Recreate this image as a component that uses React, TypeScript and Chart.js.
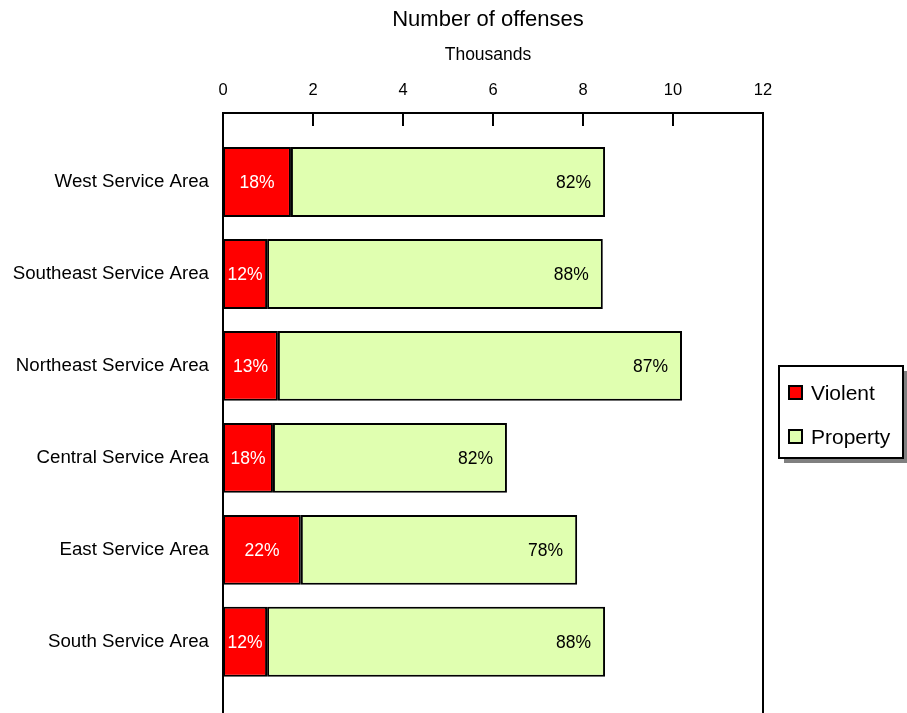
import React, { useEffect, useRef } from "react";
import { Chart, registerables } from "chart.js";

Chart.register(...registerables);

const categories = [
  "West Service Area",
  "Southeast Service Area",
  "Northeast Service Area",
  "Central Service Area",
  "East Service Area",
  "South Service Area",
];
const violent = [1.51, 0.98, 1.22, 1.11, 1.73, 0.98];
const property = [6.98, 7.46, 8.98, 5.2, 6.14, 7.51];
const violentPct = ["18%", "12%", "13%", "18%", "22%", "12%"];
const propertyPct = ["82%", "88%", "87%", "82%", "78%", "88%"];
const xTicks = [0, 2, 4, 6, 8, 10, 12];
const titleText = "Number of offenses";
const subtitleText = "Thousands";

const FONT = "'Liberation Sans', Arial, Helvetica, sans-serif";
const RED = "#FF0000";
const GREEN = "#E0FFB0";

const decorPlugin = {
  id: "decor",
  afterDatasetsDraw(chart: any) {
    const ctx = chart.ctx;
    const area = chart.chartArea;
    const xs = chart.scales.x;
    const frameTop = area.top - 23;
    const frameBottom = chart.height;
    ctx.save();
    // frame
    ctx.strokeStyle = "#000";
    ctx.lineWidth = 2;
    ctx.beginPath();
    ctx.moveTo(area.left, frameBottom);
    ctx.lineTo(area.left, frameTop);
    ctx.lineTo(area.right, frameTop);
    ctx.lineTo(area.right, frameBottom);
    ctx.stroke();
    // tick marks
    ctx.beginPath();
    xTicks.forEach((t) => {
      const px = Math.round(xs.getPixelForValue(t));
      ctx.moveTo(px, frameTop);
      ctx.lineTo(px, frameTop + 13);
    });
    ctx.stroke();

    // value labels
    ctx.font = `17.5px ${FONT}`;
    ctx.textBaseline = "middle";
    const m0 = chart.getDatasetMeta(0);
    const m1 = chart.getDatasetMeta(1);
    m0.data.forEach((el: any, i: number) => {
      ctx.fillStyle = "#FFFFFF";
      ctx.textAlign = "center";
      ctx.fillText(violentPct[i], (el.x + el.base) / 2, el.y + 1);
    });
    m1.data.forEach((el: any, i: number) => {
      ctx.fillStyle = "#000000";
      ctx.textAlign = "right";
      ctx.fillText(propertyPct[i], el.x - 14, el.y + 1);
    });

    // titles
    const cx = (area.left + area.right) / 2 - 5;
    ctx.fillStyle = "#000";
    ctx.textAlign = "center";
    ctx.font = `22px ${FONT}`;
    ctx.fillText(titleText, cx, 20);
    ctx.font = `17.5px ${FONT}`;
    ctx.fillText(subtitleText, cx, 55);

    // legend
    const lx = area.right + 16;
    const ly = area.top + 230;
    const lw = 124;
    const lh = 92;
    ctx.fillStyle = "#808080";
    ctx.fillRect(lx + 5, ly + 5, lw, lh);
    ctx.fillStyle = "#FFFFFF";
    ctx.fillRect(lx, ly, lw, lh);
    ctx.strokeStyle = "#000";
    ctx.lineWidth = 2;
    ctx.strokeRect(lx, ly, lw, lh);
    const items = chart.data.datasets;
    items.forEach((ds: any, i: number) => {
      const iy = ly + 27 + i * 44;
      ctx.fillStyle = ds.backgroundColor;
      ctx.fillRect(lx + 11, iy - 6, 13, 13);
      ctx.strokeStyle = "#000";
      ctx.lineWidth = 2;
      ctx.strokeRect(lx + 10, iy - 7, 13, 13);
      ctx.fillStyle = "#000";
      ctx.textAlign = "left";
      ctx.font = `21px ${FONT}`;
      ctx.fillText(ds.label, lx + 32, iy + 1);
    });
    ctx.restore();
  },
};

export default function App() {
  const ref = useRef<HTMLCanvasElement | null>(null);
  useEffect(() => {
    if (!ref.current) return;
    const chart = new Chart(ref.current, {
      type: "bar",
      data: {
        labels: categories,
        datasets: [
          {
            label: "Violent",
            data: violent,
            backgroundColor: RED,
            borderColor: "#000",
            borderWidth: 2,
            borderSkipped: false,
          },
          {
            label: "Property",
            data: property,
            backgroundColor: GREEN,
            borderColor: "#000",
            borderWidth: 2,
            borderSkipped: false,
          },
        ],
      },
      options: {
        indexAxis: "y",
        animation: false,
        responsive: true,
        maintainAspectRatio: false,
        layout: { padding: { top: 0, left: 0, right: 144, bottom: 24 } },
        datasets: { bar: { categoryPercentage: 1, barPercentage: 0.76 } },
        plugins: {
          legend: { display: false },
          title: { display: false },
          tooltip: { enabled: false },
        },
        scales: {
          x: {
            type: "linear",
            position: "top",
            stacked: true,
            min: 0,
            max: 12,
            afterBuildTicks(scale: any) {
              scale.ticks = xTicks.map((v) => ({ value: v }));
            },
            afterFit(scale: any) {
              scale.height = 136;
            },
            ticks: {
              stepSize: 2,
              color: "#000",
              padding: 36,
              font: { size: 16.5, family: FONT },
            },
            grid: { display: false, drawTicks: false },
            border: { display: false },
          },
          y: {
            stacked: true,
            afterFit(scale: any) {
              scale.width = 223;
            },
            ticks: {
              color: "#000",
              padding: 14,
              font: { size: 18.7, family: FONT },
            },
            grid: { display: false, drawTicks: false },
            border: { display: false },
          },
        },
      },
      plugins: [decorPlugin],
    });
    return () => chart.destroy();
  }, []);
  return (
    <div style={{ position: "absolute", left: 0, top: 0, width: 907, height: 713, background: "#fff" }}>
      <canvas ref={ref} />
    </div>
  );
}
